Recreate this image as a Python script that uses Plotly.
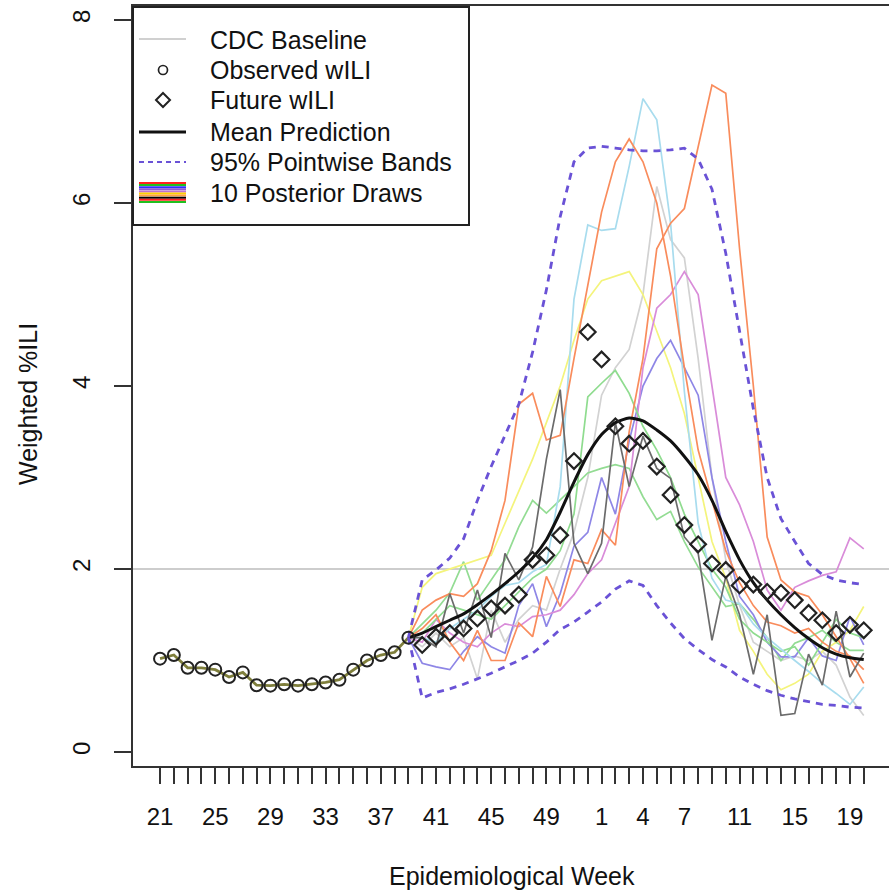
import plotly.graph_objects as go

# ---------------- data ----------------
weeks = list(range(21, 53)) + list(range(1, 21))          # epidemiological weeks, one per index
shown_week_labels = [21, 25, 29, 33, 37, 41, 45, 49, 1, 4, 7, 11, 15, 19]
ytick_vals = [0, 2, 4, 6, 8]
cdc_baseline = 2.0

observed_wili = [1.02, 1.06, 0.92, 0.92, 0.90, 0.82, 0.87, 0.73, 0.725, 0.74,
                 0.725, 0.74, 0.76, 0.79, 0.90, 1.00, 1.06, 1.09, 1.25]          # weeks 21-39
future_wili = [1.17, 1.26, 1.30, 1.35, 1.46, 1.57, 1.60, 1.72, 2.10, 2.15,
               2.37, 3.18, 4.59, 4.29, 3.56, 3.37, 3.40, 3.12, 2.81, 2.48,
               2.27, 2.06, 1.99, 1.82, 1.83, 1.75, 1.74, 1.66, 1.52, 1.44,
               1.30, 1.39, 1.33]                                                # weeks 40-20
# prediction curves start at the last observed week (39)
mean_pred = [1.25, 1.30, 1.37, 1.44, 1.51, 1.61, 1.72, 1.84, 1.97, 2.12,
             2.32, 2.62, 2.95, 3.25, 3.47, 3.60, 3.65, 3.62, 3.52, 3.40,
             3.23, 3.03, 2.75, 2.41, 2.10, 1.85, 1.66, 1.50, 1.36, 1.24,
             1.14, 1.07, 1.03, 1.01]
band_upper = [1.25, 1.88, 1.99, 2.12, 2.33, 2.75, 3.12, 3.47, 3.8, 4.37,
              5.05, 5.85, 6.45, 6.6, 6.62, 6.6, 6.58, 6.57, 6.57, 6.58,
              6.6, 6.48, 6.15, 5.45, 4.6, 3.75, 3.0, 2.55, 2.3, 2.06,
              1.94, 1.88, 1.85, 1.83]
band_lower = [1.25, 0.59, 0.65, 0.69, 0.74, 0.80, 0.86, 0.93, 1.00, 1.08,
              1.20, 1.34, 1.42, 1.53, 1.64, 1.78, 1.87, 1.82, 1.60, 1.41,
              1.24, 1.12, 1.01, 0.93, 0.82, 0.74, 0.67, 0.62, 0.58, 0.55,
              0.52, 0.51, 0.49, 0.48]

draw_orange_a = [1.25, 1.55, 1.66, 1.73, 1.70, 1.84, 2.2, 2.75, 3.8, 3.92,
                 3.41, 3.46, 4.3, 5.1, 5.9, 6.45, 6.7, 6.45, 6.0, 5.2,
                 4.2, 3.3, 2.75, 2.2, 1.85, 1.6, 1.42, 1.38, 1.3, 1.35,
                 1.2, 1.1, 1.05, 0.9]
draw_orange_b = [1.25, 1.35, 1.5, 1.2, 1.0, 1.33, 1.0, 1.0, 1.41, 1.26,
                 1.92, 1.59, 2.1, 2.06, 2.43, 2.26, 3.5, 4.3, 5.5, 5.78,
                 5.94, 6.62, 7.29, 7.2, 5.5, 4.0, 2.35, 1.88, 1.75, 1.70,
                 1.50, 1.26, 1.02, 0.75]
draw_lightblue = [1.25, 1.25, 1.2, 1.35, 1.45, 1.55, 1.7, 1.82, 1.85, 1.97,
                  2.05, 2.9, 4.95, 5.76, 5.7, 5.72, 6.4, 7.14, 6.91, 5.78,
                  3.94, 2.5, 1.9, 1.66, 1.62, 1.4, 1.25, 1.12, 1.0, 0.88,
                  0.75, 0.64, 0.52, 0.71]
draw_lightgray = [1.25, 1.15, 1.3, 1.15, 1.25, 0.8, 1.55, 1.2, 1.45, 1.6,
                  1.55, 2.0, 2.4, 3.0, 3.9, 4.2, 4.4, 5.0, 6.18, 5.6,
                  5.4, 4.3, 3.0, 2.1, 1.6, 1.2, 1.1, 1.0, 1.05, 1.0,
                  1.1, 0.95, 0.6, 0.4]
draw_yellow = [1.25, 1.8, 1.95, 2.0, 2.05, 2.1, 2.15, 2.5, 2.85, 3.2,
               3.6, 4.0, 4.5, 4.95, 5.15, 5.2, 5.25, 5.0, 4.6, 4.2,
               3.7, 3.0, 2.3, 1.9, 1.33, 1.1, 0.85, 0.68, 0.75, 0.85,
               1.1, 1.2, 1.33, 1.59]
draw_pink = [1.25, 1.2, 1.45, 1.3, 1.2, 1.15, 1.3, 1.4, 1.37, 1.48,
             1.5, 1.55, 1.72, 1.95, 2.1, 2.5, 2.9, 4.2, 4.85, 5.0,
             5.25, 5.0, 4.0, 3.0, 2.7, 2.3, 1.77, 1.55, 1.8, 1.87,
             1.93, 1.97, 2.34, 2.22]
draw_slateblue = [1.25, 0.97, 0.93, 0.90, 1.1, 1.26, 1.15, 1.08, 1.6, 1.84,
                  1.37, 1.73, 2.25, 2.4, 3.0, 2.6, 3.4, 4.0, 4.3, 4.5,
                  4.2, 3.9, 3.0, 2.3, 1.7, 1.5, 1.2, 1.04, 1.04, 1.25,
                  1.05, 1.0, 1.48, 1.17]
draw_green_a = [1.25, 1.3, 1.45, 1.6, 1.55, 1.5, 1.45, 1.6, 1.75, 1.9,
                2.0, 2.2, 2.6, 3.88, 4.03, 4.17, 3.92, 3.56, 3.3, 3.0,
                2.6, 2.3, 2.0, 1.8, 1.45, 1.3, 1.2, 1.1, 1.15, 0.95,
                1.2, 1.45, 1.3, 1.25]
draw_green_b = [1.25, 1.4, 1.55, 1.74, 2.08, 1.66, 1.88, 2.1, 2.46, 2.75,
                2.61, 2.75, 2.9, 3.05, 3.1, 3.14, 3.1, 2.79, 2.54, 2.63,
                2.3, 2.02, 1.8, 1.59, 1.62, 1.45, 1.25, 1.0, 1.19, 1.25,
                1.33, 1.2, 1.11, 1.11]
draw_darkgray = [1.25, 1.25, 1.15, 1.73, 1.3, 1.77, 1.25, 2.17, 1.88, 2.24,
                 3.2, 3.96, 2.28, 1.95, 2.28, 3.6, 2.9, 3.45, 3.1, 2.99,
                 2.35, 2.17, 1.22, 1.92, 1.5, 0.85, 1.5, 0.4, 0.42, 1.07,
                 0.73, 1.54, 0.82, 1.08]

draws = [
    (draw_lightgray, "#d2d2d2"),
    (draw_green_b, "#93dc93"),
    (draw_yellow, "#f4f47c"),
    (draw_slateblue, "#8e86e6"),
    (draw_pink, "#d98cd9"),
    (draw_green_a, "#8fdc8f"),
    (draw_lightblue, "#a8dcee"),
    (draw_orange_b, "#f98c5c"),
    (draw_orange_a, "#f98c5c"),
    (draw_darkgray, "#6b6b6b"),
]

# ---------------- derived positions ----------------
n = len(weeks)
idx_all = list(range(n))
n_obs = len(observed_wili)
idx_obs = idx_all[:n_obs]
idx_fut = idx_all[n_obs:]
idx_pred = idx_all[n_obs - 1:]
ticktext = [str(w) if w in shown_week_labels else "" for w in weeks]

band_color = "#6a52d6"
FONT = "Liberation Sans, Arial, sans-serif"
TXT = "#111111"

fig = go.Figure()

# CDC baseline (abline)
fig.add_trace(go.Scatter(x=[-5, n + 5], y=[cdc_baseline, cdc_baseline], mode="lines",
                         line=dict(color="#bdbdbd", width=1.5), hoverinfo="skip"))

# posterior draws
for vals, col in draws:
    fig.add_trace(go.Scatter(x=idx_pred, y=vals, mode="lines",
                             line=dict(color=col, width=1.7), hoverinfo="skip"))

# observed segment (all draws coincide there)
fig.add_trace(go.Scatter(x=idx_obs, y=observed_wili, mode="lines",
                         line=dict(color="#7f7f3c", width=2.8), hoverinfo="skip"))

# mean prediction
fig.add_trace(go.Scatter(x=idx_pred, y=mean_pred, mode="lines", line_shape="spline",
                         line=dict(color="#111111", width=3, smoothing=0.6), hoverinfo="skip"))
# bands
for band in (band_upper, band_lower):
    fig.add_trace(go.Scatter(x=idx_pred, y=band, mode="lines",
                             line=dict(color=band_color, width=2.8, dash="7px,6px"),
                             hoverinfo="skip"))

# observed points
fig.add_trace(go.Scatter(x=idx_obs, y=observed_wili, mode="markers",
                         marker=dict(symbol="circle-open", size=12, color="#222222",
                                     line=dict(width=2, color="#222222")),
                         hoverinfo="skip"))
# future points
fig.add_trace(go.Scatter(x=idx_fut, y=future_wili, mode="markers",
                         marker=dict(symbol="diamond-open", size=12, color="#222222",
                                     line=dict(width=2.2, color="#222222")),
                         hoverinfo="skip"))

# ---------------- manual legend (pixel -> paper helpers) ----------------
L, R, T, B = 133, 889, 6, 766
def px(xp):
    return (xp - L) / (R - L)
def py(yp):
    return (B - yp) / (B - T)

shapes = []
shapes.append(dict(type="rect", xref="paper", yref="paper", x0=px(133), x1=px(469),
                   y0=py(225), y1=py(7), line=dict(color="#222222", width=2),
                   fillcolor="rgba(255,255,255,0)", layer="above"))
shapes.append(dict(type="line", xref="paper", yref="paper", x0=px(139), x1=px(186),
                   y0=py(39), y1=py(39), line=dict(color="#c0c0c0", width=1.5)))
shapes.append(dict(type="circle", xref="paper", yref="paper", x0=px(158.5), x1=px(167.5),
                   y0=py(74.5), y1=py(65.5), line=dict(color="#222222", width=1.7)))
shapes.append(dict(type="path", xref="paper", yref="paper",
                   path="M {a},{b} L {c},{d} L {a},{e} L {f},{d} Z".format(
                       a=px(163), b=py(93), c=px(170), d=py(100), e=py(107), f=px(156)),
                   line=dict(color="#222222", width=2)))
shapes.append(dict(type="line", xref="paper", yref="paper", x0=px(139), x1=px(186),
                   y0=py(132), y1=py(132), line=dict(color="#111111", width=3)))
shapes.append(dict(type="line", xref="paper", yref="paper", x0=px(139), x1=px(186),
                   y0=py(162), y1=py(162), line=dict(color=band_color, width=2, dash="5px,4px")))
stripe_cols = ["#ff2020", "#20c020", "#3030ff", "#8a5ad6", "#c070d0", "#ffd000",
               "#ffa040", "#000000", "#ff2020", "#20c020"]
for k, c in enumerate(stripe_cols):
    yy = 183 + k * 2.1
    shapes.append(dict(type="line", xref="paper", yref="paper", x0=px(139), x1=px(186),
                       y0=py(yy), y1=py(yy), line=dict(color=c, width=2)))

legend_labels = ["CDC Baseline", "Observed wILI", "Future wILI", "Mean Prediction",
                 "95% Pointwise Bands", "10 Posterior Draws"]
legend_rows = [40, 70, 100, 132, 162, 193]
annotations = []
for lab, yr in zip(legend_labels, legend_rows):
    annotations.append(dict(text=lab, xref="paper", yref="paper", x=px(208), y=py(yr),
                            xanchor="left", yanchor="middle", showarrow=False,
                            font=dict(family=FONT, size=25, color=TXT)))
annotations.append(dict(text="Epidemiological Week", xref="paper", yref="paper",
                        x=px(512), y=py(876), xanchor="center", yanchor="middle",
                        showarrow=False, font=dict(family=FONT, size=25, color=TXT)))
annotations.append(dict(text="Weighted %ILI", xref="paper", yref="paper",
                        x=px(28), y=py(404), xanchor="center", yanchor="middle",
                        textangle=-90, showarrow=False,
                        font=dict(family=FONT, size=25, color=TXT)))

fig.update_layout(
    width=889, height=891,
    margin=dict(l=L, r=889 - R, t=T, b=891 - B, pad=0),
    paper_bgcolor="white", plot_bgcolor="white",
    showlegend=False,
    shapes=shapes, annotations=annotations,
    xaxis=dict(range=[-1.96, 52.83], tickmode="array", tickvals=idx_all, ticktext=ticktext,
               ticks="outside", ticklen=16, tickwidth=1.6, tickcolor="#333333",
               showline=True, linecolor="#333333", linewidth=2, mirror=True,
               showgrid=False, zeroline=False, ticklabelstandoff=12,
               tickfont=dict(family=FONT, size=24, color=TXT)),
    yaxis=dict(range=[-0.153, 8.153], tickmode="array", tickvals=ytick_vals,
               ticktext=[str(v) for v in ytick_vals], tickangle=-90,
               ticks="outside", ticklen=17, tickwidth=1.6, tickcolor="#333333",
               showline=True, linecolor="#333333", linewidth=2, mirror=False,
               showgrid=False, zeroline=False, ticklabelstandoff=14,
               tickfont=dict(family=FONT, size=24, color=TXT)),
)

fig.write_html("out.html", config={"displayModeBar": False},
               post_script="document.body.style.margin='0';document.body.style.overflow='hidden';")
